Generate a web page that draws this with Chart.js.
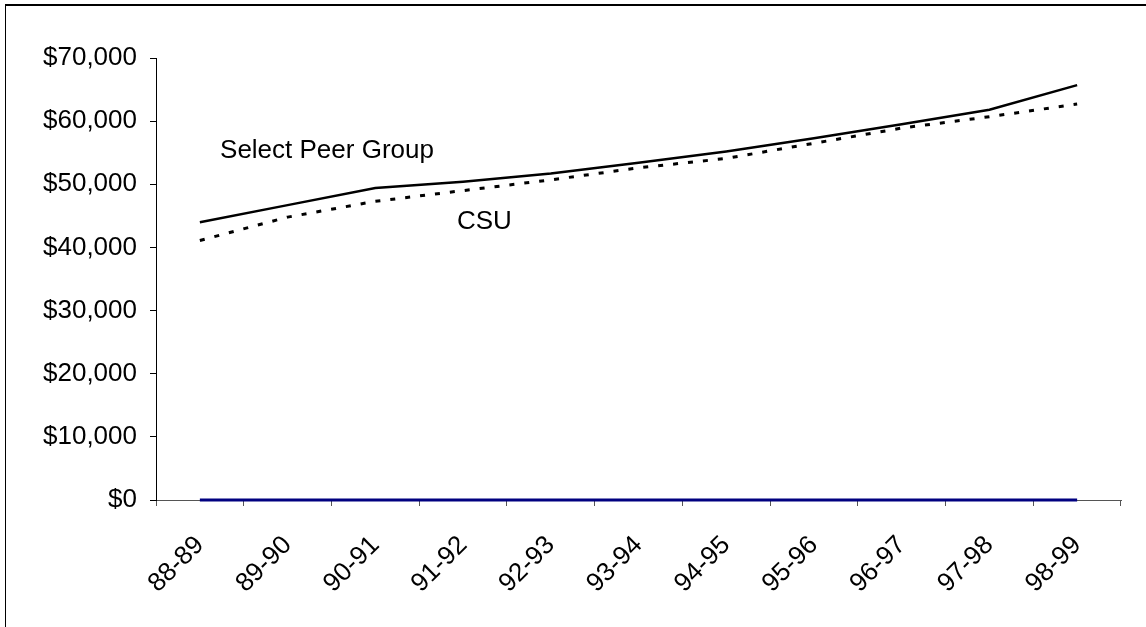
<!DOCTYPE html>
<html>
<head>
<meta charset="utf-8">
<script src="https://cdn.jsdelivr.net/npm/chart.js@4.4.0/dist/chart.umd.min.js"></script>
<style>
  html, body { margin: 0; padding: 0; background: #fff; overflow: hidden; }
  #wrap { position: relative; width: 1146px; height: 627px; }
  #frame { position: absolute; left: 5px; top: 4px; width: 1200px; height: 700px;
           border-left: 1px solid #000; border-top: 2px solid #000; box-sizing: border-box; }
  canvas { position: absolute; left: 0; top: 0; }
</style>
</head>
<body>
<div id="wrap">
  <div id="frame"></div>
  <canvas id="chart" width="1146" height="627"></canvas>
</div>
<script>
const years = ['88-89', '89-90', '90-91', '91-92', '92-93', '93-94', '94-95', '95-96', '96-97', '97-98', '98-99'];
const peerGroup = [44000, 46700, 49400, 50400, 51700, 53400, 55200, 57300, 59500, 61800, 65700];
const csu = [41100, 44800, 47300, 49000, 50700, 52600, 54100, 56500, 58900, 60700, 62700];
const baseline = [0, 0, 0, 0, 0, 0, 0, 0, 0, 0, 0];

// text labels placed on the plot, in data units (category index, value)
const notes = [
  { text: 'Select Peer Group', x: 0.23, y: 55300 },
  { text: 'CSU', x: 2.93, y: 44000 },
];

const FONT = "'Liberation Sans', Arial, sans-serif";

const notePlugin = {
  id: 'notes',
  afterDatasetsDraw(chart) {
    const { ctx, scales } = chart;
    ctx.save();
    ctx.font = '26px ' + FONT;
    ctx.fillStyle = '#000';
    ctx.textBaseline = 'middle';
    ctx.textAlign = 'left';
    notes.forEach((n) => {
      ctx.fillText(n.text, scales.x.getPixelForValue(n.x), scales.y.getPixelForValue(n.y));
    });
    ctx.restore();
  },
};

new Chart(document.getElementById('chart'), {
  type: 'line',
  data: {
    labels: years,
    datasets: [
      {
        label: 'Select Peer Group',
        data: peerGroup,
        borderColor: '#000',
        borderWidth: 2.5,
        pointRadius: 0,
        tension: 0,
      },
      {
        label: 'CSU',
        data: csu,
        borderColor: '#000',
        borderWidth: 3,
        borderDash: [5, 10],
        pointRadius: 0,
        tension: 0,
      },
      {
        label: 'base',
        data: baseline,
        borderColor: '#000080',
        borderWidth: 3,
        pointRadius: 0,
        tension: 0,
        clip: false,
      },
    ],
  },
  options: {
    responsive: false,
    animation: false,
    layout: { padding: { left: 0, right: 25, top: 58, bottom: 0 } },
    plugins: {
      legend: { display: false },
      tooltip: { enabled: false },
    },
    scales: {
      x: {
        offset: true,
        grid: { offset: true, drawOnChartArea: false, tickLength: 6, tickColor: '#555' },
        border: { color: '#555', width: 1 },
        ticks: {
          color: '#000',
          font: { family: FONT, size: 26 },
          maxRotation: 45,
          minRotation: 45,
          padding: 24,
        },
        afterFit: (s) => { s.height = 127; },
      },
      y: {
        min: 0,
        max: 70000,
        ticks: {
          stepSize: 10000,
          color: '#000',
          font: { family: FONT, size: 26 },
          padding: 13,
          callback: (v) => '$' + v.toLocaleString('en-US'),
        },
        grid: { drawOnChartArea: false, tickLength: 6, tickColor: '#000' },
        border: { color: '#000', width: 1 },
        afterFit: (s) => { s.width = 156; },
      },
    },
  },
  plugins: [notePlugin],
});
</script>
</body>
</html>
